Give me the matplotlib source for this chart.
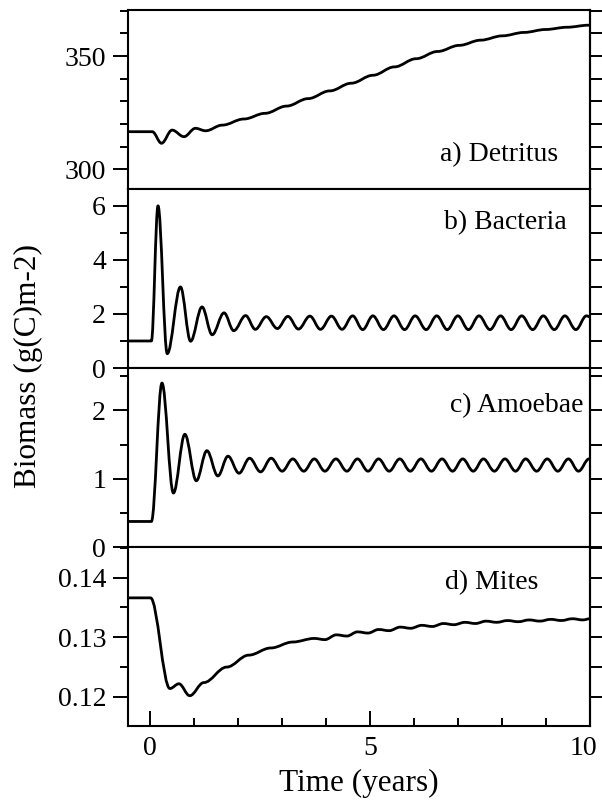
import matplotlib
matplotlib.use('Agg')
import matplotlib.pyplot as plt
from matplotlib.path import Path
from matplotlib.patches import PathPatch
from matplotlib.transforms import ScaledTranslation
from matplotlib.ticker import MultipleLocator, FormatStrFormatter, NullFormatter

plt.rcParams['font.family'] = ['Liberation Serif', 'DejaVu Serif']

# turning points / plateau centres (time in years)
det_t = [-0.5, 0.06, 0.27, 0.51, 0.78, 1.04, 1.27, 1.65, 2.14, 2.62, 3.11, 3.60,
         4.09, 4.58, 5.07, 5.56, 6.05, 6.54, 7.03, 7.52, 8.01, 8.50, 8.99, 9.48,
         9.97, 10.0]
det_v = [316.6, 316.6, 311.5, 317.3, 314.4, 318.1, 317.0, 319.5, 322.2, 324.7,
         327.9, 331.2, 334.6, 338.0, 341.5, 345.2, 348.8, 352.0, 354.7, 357.0,
         358.9, 360.4, 361.7, 362.7, 363.6, 363.6]

bact_t = [-0.5, 0.04, 0.19, 0.40, 0.70, 0.93, 1.19, 1.42, 1.69, 1.91, 2.18, 2.40,
          2.65, 2.90, 3.14, 3.38, 3.64, 3.88, 4.13, 4.37, 4.61, 4.84, 5.07, 5.31,
          5.55, 5.79, 6.03, 6.28, 6.52, 6.76, 7.00, 7.24, 7.48, 7.73, 7.97, 8.21,
          8.45, 8.70, 8.94, 9.19, 9.43, 9.68, 9.92, 10.0]
bact_v = [1.0, 1.0, 6.0, 0.53, 3.0, 0.99, 2.26, 1.23, 2.04, 1.38, 1.94, 1.43,
          1.90, 1.46, 1.91, 1.44, 1.92, 1.43, 1.92, 1.43, 1.93, 1.42, 1.93, 1.42,
          1.93, 1.42, 1.93, 1.42, 1.93, 1.42, 1.93, 1.42, 1.93, 1.42, 1.93, 1.42,
          1.93, 1.42, 1.93, 1.42, 1.93, 1.42, 1.93, 1.89]

amoe_t = [-0.5, 0.04, 0.28, 0.54, 0.80, 1.06, 1.30, 1.55, 1.78, 2.03, 2.27, 2.52,
          2.76, 3.01, 3.25, 3.50, 3.74, 3.98, 4.23, 4.48, 4.72, 4.96, 5.20, 5.44,
          5.68, 5.92, 6.16, 6.40, 6.64, 6.88, 7.11, 7.35, 7.58, 7.83, 8.07, 8.31,
          8.54, 8.79, 9.03, 9.27, 9.51, 9.74, 9.98, 10.0]
amoe_v = [0.374, 0.374, 2.40, 0.79, 1.65, 0.97, 1.41, 1.04, 1.33, 1.08, 1.30, 1.10,
          1.30, 1.11, 1.29, 1.11, 1.29, 1.11, 1.29, 1.11, 1.29, 1.11, 1.29, 1.11,
          1.29, 1.11, 1.29, 1.11, 1.29, 1.11, 1.29, 1.11, 1.29, 1.11, 1.29, 1.11,
          1.29, 1.11, 1.29, 1.11, 1.29, 1.11, 1.29, 1.29]

mite_t = [-0.5, 0.02, 0.46, 0.665, 0.91, 1.23, 1.75, 2.25, 2.75, 3.25, 3.74, 3.98,
          4.24, 4.48, 4.72, 4.96, 5.20, 5.44, 5.69, 5.93, 6.18, 6.42, 6.67, 6.91,
          7.16, 7.40, 7.64, 7.88, 8.13, 8.37, 8.62, 8.86, 9.11, 9.35, 9.60, 9.84,
          10.0]
mite_v = [0.1366, 0.1366, 0.1214, 0.1222, 0.1202, 0.1224, 0.1250, 0.1270, 0.1282,
          0.1292, 0.1298, 0.1296, 0.1304, 0.1302, 0.1309, 0.1307, 0.1313, 0.1311,
          0.1317, 0.1315, 0.1320, 0.1318, 0.1323, 0.1321, 0.1325, 0.1323, 0.1327,
          0.1325, 0.1328, 0.1326, 0.1329, 0.1327, 0.1330, 0.1328, 0.1331, 0.1329,
          0.1331]

labels = ['a) Detritus', 'b) Bacteria', 'c) Amoebae', 'd) Mites']


def smooth_path(t, v, k=0.36):
    # cubic bezier through the read points, flat tangent at each of them
    verts = [(t[0], v[0])]
    codes = [Path.MOVETO]
    for i in range(len(t) - 1):
        dt = t[i + 1] - t[i]
        verts += [(t[i] + k * dt, v[i]), (t[i + 1] - k * dt, v[i + 1]), (t[i + 1], v[i + 1])]
        codes += [Path.CURVE4] * 3
    return Path(verts, codes)


fig, axes = plt.subplots(4, 1, figsize=(6.02, 8.01), dpi=100, sharex=True)
fig.subplots_adjust(left=0.212, right=0.980, bottom=0.0936, top=0.9875, hspace=0)

panels = [
    (det_t, det_v, (291.3, 370.3), 50, 10, '%d', (0.931, 0.19)),
    (bact_t, bact_v, (0, 6.62), 2, 1, '%d', (0.95, 0.81)),
    (amoe_t, amoe_v, (0, 2.62), 1, 0.5, '%d', (0.985, 0.79)),
    (mite_t, mite_v, (0.11512, 0.14512), 0.01, 0.005, '%.2f', (0.888, 0.80)),
]

for ax, (t, v, ylim, major, minor, fmt, lpos), lab in zip(axes, panels, labels):
    ax.add_patch(PathPatch(smooth_path(t, v), fill=False, ec='black', lw=2.0,
                           joinstyle='round'))
    ax.set_xlim(-0.5, 10)
    ax.set_ylim(*ylim)
    ax.yaxis.set_major_locator(MultipleLocator(major))
    ax.yaxis.set_minor_locator(MultipleLocator(minor))
    ax.yaxis.set_major_formatter(FormatStrFormatter(fmt))
    ax.tick_params(axis='y', which='major', direction='out', length=10.5, width=1.4,
                   labelsize=20, pad=5)
    ax.tick_params(axis='y', which='minor', direction='out', length=5.5, width=1.4)
    ax.tick_params(axis='x', which='both', bottom=False, labelbottom=False)
    for s in ax.spines.values():
        s.set_linewidth(1.5)
    ax.text(lpos[0], lpos[1], lab, transform=ax.transAxes, ha='right', va='center',
            fontsize=20)
    # ticks on the right side, no labels
    sec = ax.secondary_yaxis('right')
    sec.yaxis.set_major_locator(MultipleLocator(minor))
    sec.yaxis.set_major_formatter(NullFormatter())
    sec.tick_params(direction='out', length=10, width=1.4)
    sec.spines['right'].set_linewidth(1.5)

bx = axes[-1]
bx.set_xticks([0, 5, 10])
bx.xaxis.set_minor_locator(MultipleLocator(1))
bx.tick_params(axis='x', which='major', bottom=True, labelbottom=True, direction='in',
               length=10.5, width=1.4, labelsize=20, pad=7)
bx.tick_params(axis='x', which='minor', bottom=True, direction='in', length=5.5, width=1.4)
# keep the "10" inside the picture
last = bx.xaxis.get_major_ticks()[-1].label1
last.set_transform(last.get_transform() + ScaledTranslation(-5 / 72, 0, fig.dpi_scale_trans))

fig.text(0.596, 0.0225, 'Time (years)', ha='center', va='center', fontsize=22.5)
fig.text(0.047, 0.543, 'Biomass (g(C)m-2)', ha='center', va='center', rotation=90,
         fontsize=22.5)

plt.savefig('out.png', dpi=100)
plt.close(fig)
